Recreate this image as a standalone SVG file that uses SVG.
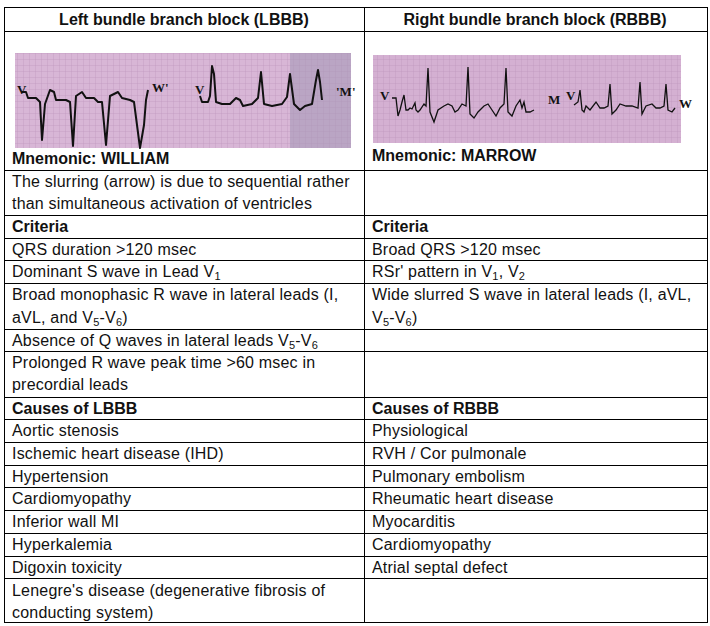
<svg xmlns="http://www.w3.org/2000/svg" width="710" height="626" viewBox="0 0 710 626">
<style>
.t{font-family:"Liberation Sans",Arial,sans-serif;font-size:16px;letter-spacing:0.2px;fill:#111}
.b{font-weight:bold;letter-spacing:0}
.g{stroke:#000;stroke-width:1;fill:none}
.ecg{fill:none;stroke:#111;stroke-width:2;stroke-linejoin:round}
.ecgr{fill:none;stroke:#111;stroke-width:1.3}
.lead{font-family:"Liberation Serif",serif;font-size:13px;font-weight:bold;fill:#111}
</style>
<defs>
<pattern id="grid" width="6" height="6" patternUnits="userSpaceOnUse">
<path d="M6 0V6M0 6H6" stroke="#b890b8" stroke-width="0.6" fill="none"/>
</pattern>
</defs>
<rect width="710" height="626" fill="#fff"/>
<g id="table" class="g">
<rect x="4.5" y="7.5" width="703" height="615"/>
<line x1="364.5" y1="7" x2="364.5" y2="623"/>
<path d="M4 31.5H708M4 170.5H708M4 215.5H708M4 238.5H708M4 260.5H708M4 283.5H708M4 329.5H708M4 351.5H708M4 397.5H708M4 419.5H708M4 442.5H708M4 465.5H708M4 487.5H708M4 510.5H708M4 533.5H708M4 556.5H708M4 578.5H708"/>
</g>
<g id="ecg-left">
<rect x="15" y="53" width="336" height="95" fill="#d8b6d6"/>
<rect x="15" y="53" width="336" height="95" fill="url(#grid)"/>
<rect x="290" y="53" width="61" height="95" fill="#a79ab8" opacity="0.6"/>
<polyline class="ecg" points="22,92 26,92 28,98 36,98 40,102 42,140 45,104 50,90 54,92 56,100 66,100 70,102 73,146 76,96 82,92 86,98 94,98 98,102 102,102 106,145 110,96 118,92 122,98 130,100 134,102 140,148 144,125 146,100 148,90"/>
<text class="lead" x="17" y="94">V</text>
<text class="lead" x="152" y="92">W'</text>
<text class="lead" x="195" y="94">V</text>
<polyline class="ecg" points="200,96 202,102 208,102 210,96 212,66 214,74 216,102 222,104 230,104 236,98 240,100 243,106 252,104 258,98 261,72 264,104 272,106 282,104 287,97 290,74 294,104 300,110 305,106 312,104 316,80 318,70 320,82 322,100"/>
<text class="lead" x="336" y="96">'M'</text>
</g>
<g id="ecg-right">
<rect x="373" y="55" width="308" height="88" fill="#d4b0d2"/>
<rect x="373" y="55" width="308" height="88" fill="url(#grid)"/>
<text class="lead" x="380" y="100">V</text>
<polyline class="ecgr" points="392,98 396,98 398,116 400,110 402,102 404,95 406,110 408,110 410,108 412,109 415,103 416,110 418,112 420,110 424,104 426,106 428,68 430,112 434,122 438,110 444,106 448,104 452,106 455,112 458,110 462,104 466,106 468,67 470,114 474,118 478,112 484,106 488,104 492,110 496,116 500,108 504,104 506,68 508,112 512,116 516,106 520,100 522,108 524,102 526,112 530,112 534,110"/>
<text class="lead" x="548" y="104">M</text>
<text class="lead" x="566" y="100">V</text>
<polyline class="ecgr" points="574,105 578,102 580,90 582,110 584,112 586,106 590,110 596,102 600,108 604,108 608,106 610,84 612,114 616,110 620,104 626,106 632,106 638,108 640,82 642,114 646,106 652,104 656,108 660,108 664,106 666,84 668,110 672,112 675,108"/>
<text class="lead" x="679" y="108">W</text>
</g>
<g id="text">
<text class="t b" x="184" y="25" text-anchor="middle">Left bundle branch block (LBBB)</text>
<text class="t b" x="535" y="25" text-anchor="middle">Right bundle branch block (RBBB)</text>
<text class="t b" x="12" y="164">Mnemonic: WILLIAM</text>
<text class="t b" x="372" y="161">Mnemonic: MARROW</text>
<text class="t" x="12" y="187">The slurring (arrow) is due to sequential rather</text>
<text class="t" x="12" y="209">than simultaneous activation of ventricles</text>
<text class="t b" x="12" y="232">Criteria</text>
<text class="t b" x="372" y="232">Criteria</text>
<text class="t" x="12" y="255">QRS duration &gt;120 msec</text>
<text class="t" x="372" y="255">Broad QRS &gt;120 msec</text>
<text class="t" x="12" y="277">Dominant S wave in Lead V<tspan font-size="11" dy="3">1</tspan></text>
<text class="t" x="372" y="277">RSr' pattern in V<tspan font-size="11" dy="3">1</tspan><tspan dy="-3">, V</tspan><tspan font-size="11" dy="3">2</tspan></text>
<text class="t" x="12" y="300">Broad monophasic R wave in lateral leads (I,</text>
<text class="t" x="12" y="323">aVL, and V<tspan font-size="11" dy="3">5</tspan><tspan dy="-3">-V</tspan><tspan font-size="11" dy="3">6</tspan><tspan dy="-3">)</tspan></text>
<text class="t" x="372" y="300">Wide slurred S wave in lateral leads (I, aVL,</text>
<text class="t" x="372" y="323">V<tspan font-size="11" dy="3">5</tspan><tspan dy="-3">-V</tspan><tspan font-size="11" dy="3">6</tspan><tspan dy="-3">)</tspan></text>
<text class="t" x="12" y="346">Absence of Q waves in lateral leads V<tspan font-size="11" dy="3">5</tspan><tspan dy="-3">-V</tspan><tspan font-size="11" dy="3">6</tspan></text>
<text class="t" x="12" y="368">Prolonged R wave peak time &gt;60 msec in</text>
<text class="t" x="12" y="390">precordial leads</text>
<text class="t b" x="12" y="414">Causes of LBBB</text>
<text class="t b" x="372" y="414">Causes of RBBB</text>
<text class="t" x="12" y="436">Aortic stenosis</text>
<text class="t" x="12" y="459">Ischemic heart disease (IHD)</text>
<text class="t" x="12" y="482">Hypertension</text>
<text class="t" x="12" y="504">Cardiomyopathy</text>
<text class="t" x="12" y="527">Inferior wall MI</text>
<text class="t" x="12" y="550">Hyperkalemia</text>
<text class="t" x="12" y="573">Digoxin toxicity</text>
<text class="t" x="12" y="596">Lenegre's disease (degenerative fibrosis of</text>
<text class="t" x="12" y="618">conducting system)</text>
<text class="t" x="372" y="436">Physiological</text>
<text class="t" x="372" y="459">RVH / Cor pulmonale</text>
<text class="t" x="372" y="482">Pulmonary embolism</text>
<text class="t" x="372" y="504">Rheumatic heart disease</text>
<text class="t" x="372" y="527">Myocarditis</text>
<text class="t" x="372" y="550">Cardiomyopathy</text>
<text class="t" x="372" y="573">Atrial septal defect</text>
</g>
</svg>
